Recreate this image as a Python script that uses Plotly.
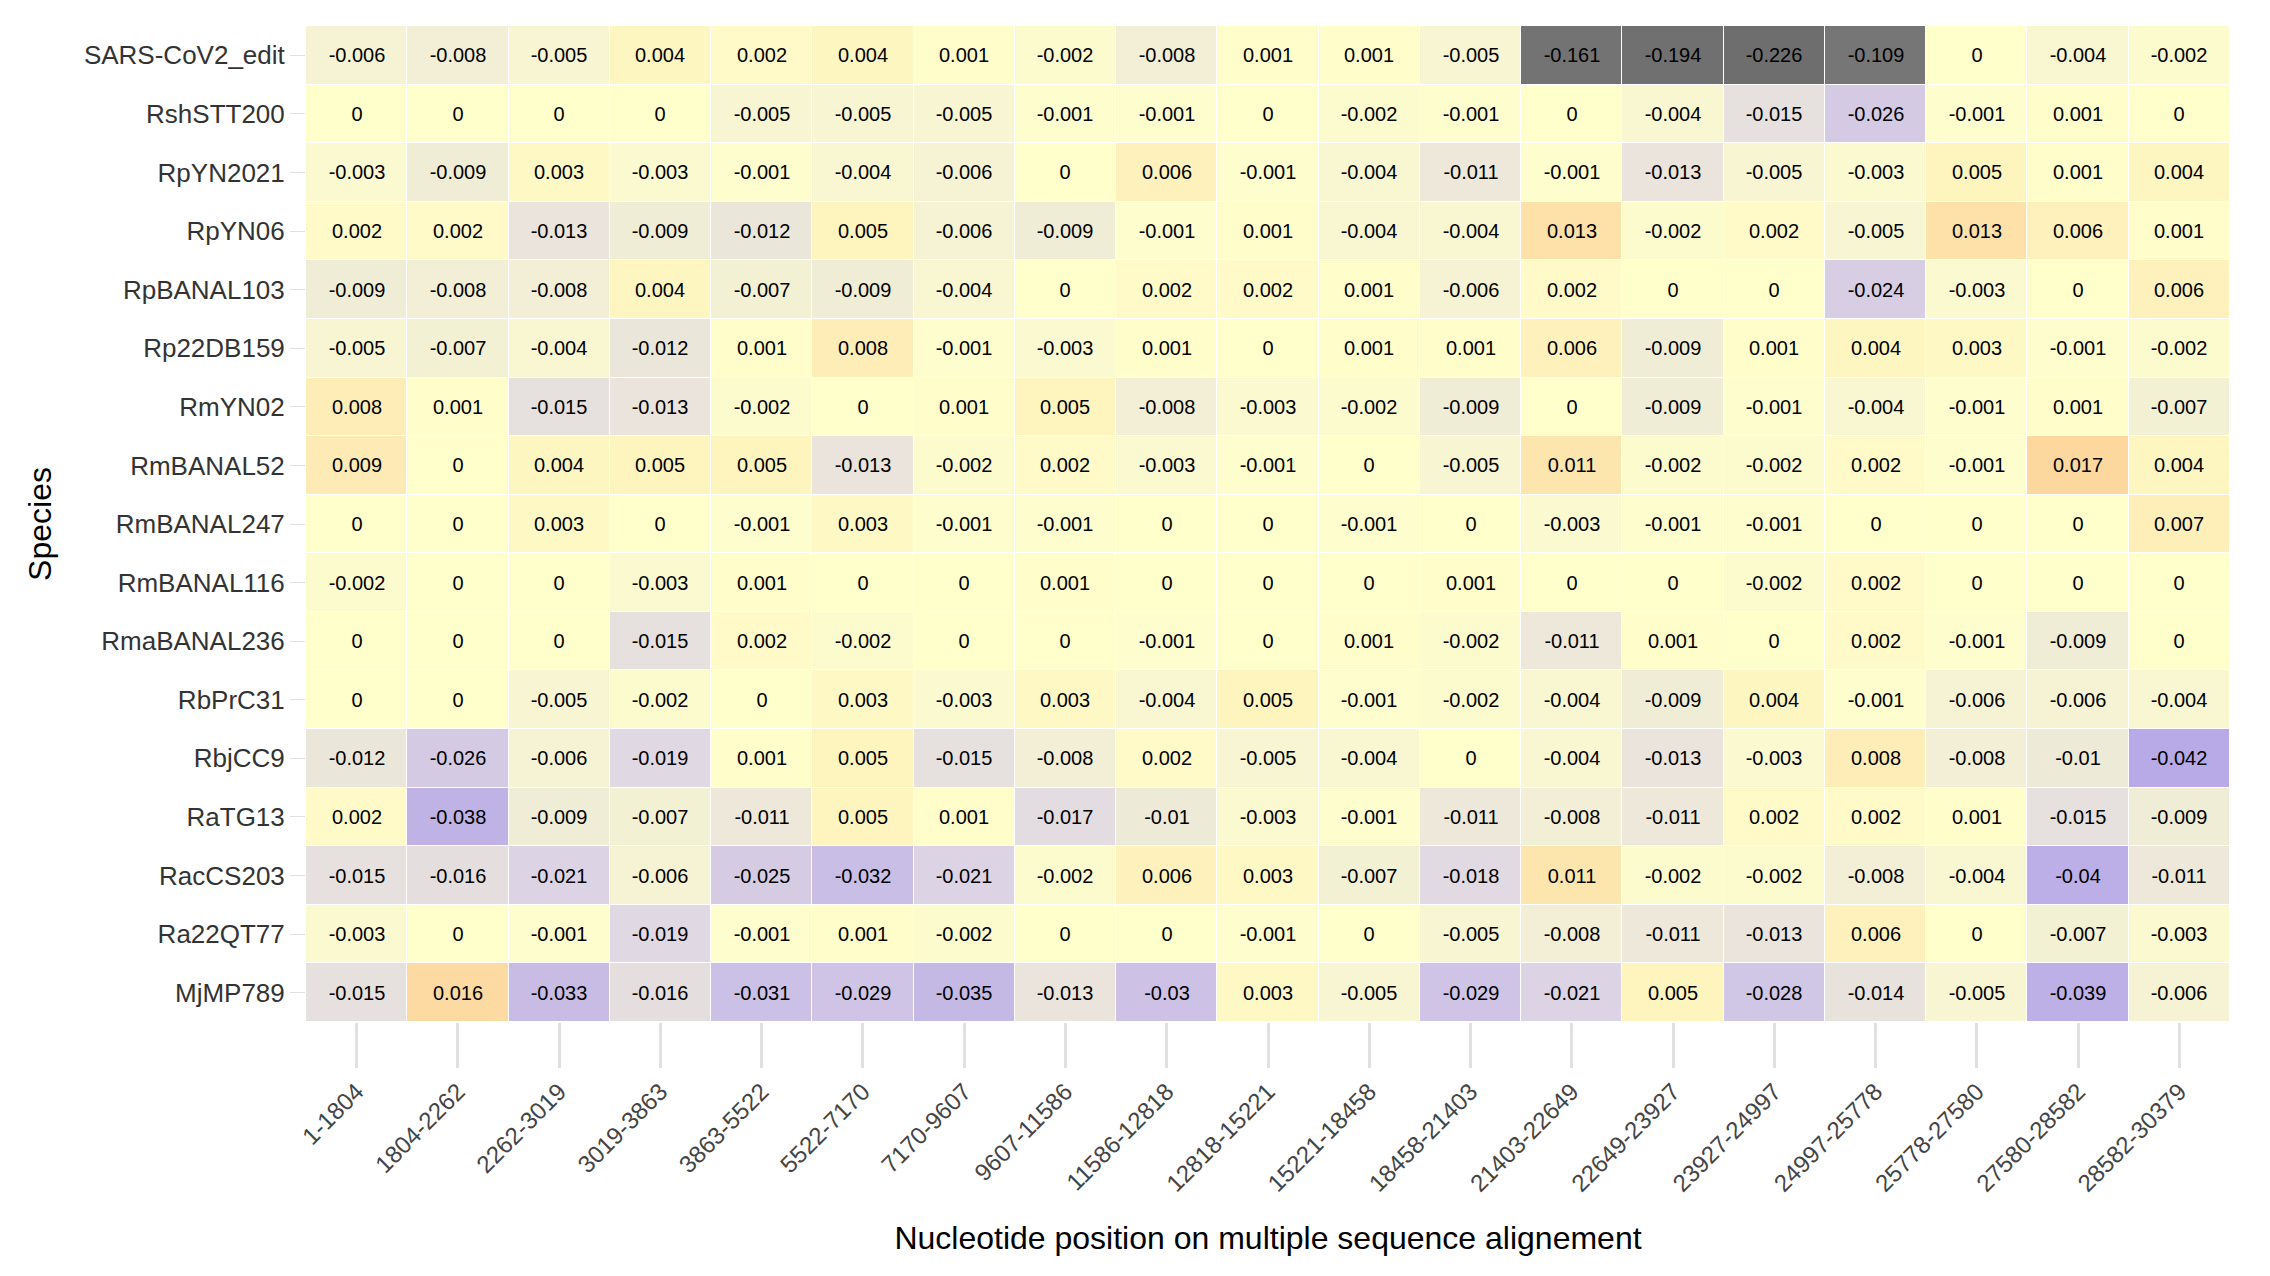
import plotly.graph_objects as go

species = ["SARS-CoV2_edit", "RshSTT200", "RpYN2021", "RpYN06", "RpBANAL103", "Rp22DB159",
           "RmYN02", "RmBANAL52", "RmBANAL247", "RmBANAL116", "RmaBANAL236", "RbPrC31",
           "RbjCC9", "RaTG13", "RacCS203", "Ra22QT77", "MjMP789"]
positions = ["1-1804", "1804-2262", "2262-3019", "3019-3863", "3863-5522", "5522-7170", "7170-9607",
             "9607-11586", "11586-12818", "12818-15221", "15221-18458", "18458-21403", "21403-22649",
             "22649-23927", "23927-24997", "24997-25778", "25778-27580", "27580-28582", "28582-30379"]

values = [
    [-0.006, -0.008, -0.005, 0.004, 0.002, 0.004, 0.001, -0.002, -0.008, 0.001, 0.001, -0.005, -0.161, -0.194, -0.226, -0.109, 0, -0.004, -0.002],
    [0, 0, 0, 0, -0.005, -0.005, -0.005, -0.001, -0.001, 0, -0.002, -0.001, 0, -0.004, -0.015, -0.026, -0.001, 0.001, 0],
    [-0.003, -0.009, 0.003, -0.003, -0.001, -0.004, -0.006, 0, 0.006, -0.001, -0.004, -0.011, -0.001, -0.013, -0.005, -0.003, 0.005, 0.001, 0.004],
    [0.002, 0.002, -0.013, -0.009, -0.012, 0.005, -0.006, -0.009, -0.001, 0.001, -0.004, -0.004, 0.013, -0.002, 0.002, -0.005, 0.013, 0.006, 0.001],
    [-0.009, -0.008, -0.008, 0.004, -0.007, -0.009, -0.004, 0, 0.002, 0.002, 0.001, -0.006, 0.002, 0, 0, -0.024, -0.003, 0, 0.006],
    [-0.005, -0.007, -0.004, -0.012, 0.001, 0.008, -0.001, -0.003, 0.001, 0, 0.001, 0.001, 0.006, -0.009, 0.001, 0.004, 0.003, -0.001, -0.002],
    [0.008, 0.001, -0.015, -0.013, -0.002, 0, 0.001, 0.005, -0.008, -0.003, -0.002, -0.009, 0, -0.009, -0.001, -0.004, -0.001, 0.001, -0.007],
    [0.009, 0, 0.004, 0.005, 0.005, -0.013, -0.002, 0.002, -0.003, -0.001, 0, -0.005, 0.011, -0.002, -0.002, 0.002, -0.001, 0.017, 0.004],
    [0, 0, 0.003, 0, -0.001, 0.003, -0.001, -0.001, 0, 0, -0.001, 0, -0.003, -0.001, -0.001, 0, 0, 0, 0.007],
    [-0.002, 0, 0, -0.003, 0.001, 0, 0, 0.001, 0, 0, 0, 0.001, 0, 0, -0.002, 0.002, 0, 0, 0],
    [0, 0, 0, -0.015, 0.002, -0.002, 0, 0, -0.001, 0, 0.001, -0.002, -0.011, 0.001, 0, 0.002, -0.001, -0.009, 0],
    [0, 0, -0.005, -0.002, 0, 0.003, -0.003, 0.003, -0.004, 0.005, -0.001, -0.002, -0.004, -0.009, 0.004, -0.001, -0.006, -0.006, -0.004],
    [-0.012, -0.026, -0.006, -0.019, 0.001, 0.005, -0.015, -0.008, 0.002, -0.005, -0.004, 0, -0.004, -0.013, -0.003, 0.008, -0.008, -0.01, -0.042],
    [0.002, -0.038, -0.009, -0.007, -0.011, 0.005, 0.001, -0.017, -0.01, -0.003, -0.001, -0.011, -0.008, -0.011, 0.002, 0.002, 0.001, -0.015, -0.009],
    [-0.015, -0.016, -0.021, -0.006, -0.025, -0.032, -0.021, -0.002, 0.006, 0.003, -0.007, -0.018, 0.011, -0.002, -0.002, -0.008, -0.004, -0.04, -0.011],
    [-0.003, 0, -0.001, -0.019, -0.001, 0.001, -0.002, 0, 0, -0.001, 0, -0.005, -0.008, -0.011, -0.013, 0.006, 0, -0.007, -0.003],
    [-0.015, 0.016, -0.033, -0.016, -0.031, -0.029, -0.035, -0.013, -0.03, 0.003, -0.005, -0.029, -0.021, 0.005, -0.028, -0.014, -0.005, -0.039, -0.006],
]

zmin, zmax = -0.226, 0.017
def pos(v):
    return (v - zmin) / (zmax - zmin)

colorscale = [
    [0.0, "#6e6e6e"], [pos(-0.06), "#7a7a7a"], [pos(-0.045), "#b3a4e6"],
    [pos(-0.02), "#ded6e4"], [pos(0), "#ffffcc"], [1.0, "#fcd89e"],
]

text = [["0" if v == 0 else ("%g" % v) for v in row] for row in values]

fig = go.Figure(go.Heatmap(
    z=values, x=positions, y=species, text=text, texttemplate="%{text}",
    textfont=dict(size=20, color="black"), colorscale=colorscale,
    zmin=zmin, zmax=zmax, showscale=False, xgap=1, ygap=1,
))
fig.update_layout(
    width=2270, height=1276, plot_bgcolor="white", paper_bgcolor="white",
    margin=dict(l=298, r=48, t=18, b=262),
    font=dict(family="Liberation Sans, Arial", size=26, color="#333"),
)
fig.update_xaxes(tickangle=-45, ticks="outside", ticklen=45, tickcolor="#e0e0e0", tickwidth=3,
                 title=dict(text="Nucleotide position on multiple sequence alignement",
                            font=dict(size=32, color="black"), standoff=30),
                 tickfont=dict(size=24, color="#444"), showgrid=False)
fig.update_yaxes(autorange="reversed", ticks="outside", ticklen=15, tickcolor="#e0e0e0",
                 title=dict(text="Species", font=dict(size=32, color="black"), standoff=22),
                 showgrid=False)
fig.write_html("out.html")
